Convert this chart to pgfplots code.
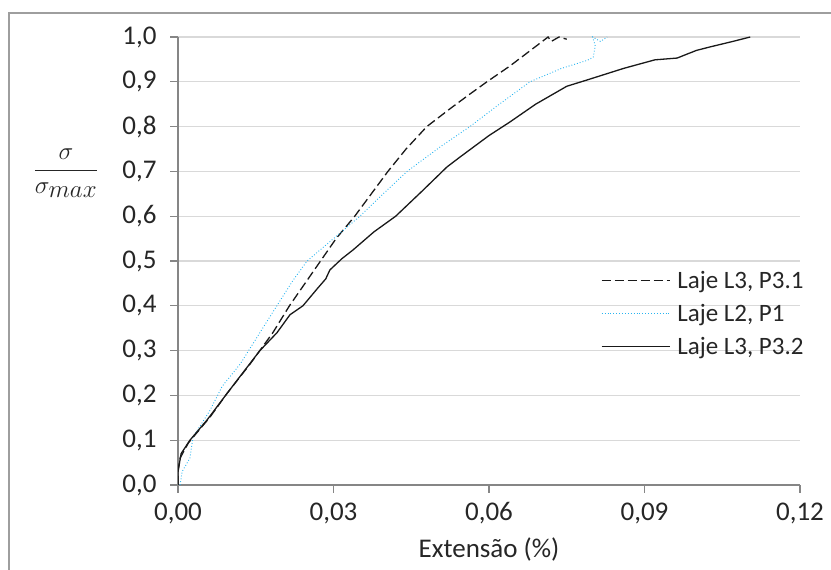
\documentclass[border=0pt]{standalone}
\usepackage{fontspec}
\setmainfont{Carlito}
\usepackage{pgfplots}
\pgfplotsset{compat=1.18}
\definecolor{axgray}{RGB}{134,134,134}
\definecolor{gridgray}{RGB}{217,217,217}
\definecolor{lblue}{RGB}{40,180,240}
\begin{document}
\begin{tikzpicture}
\useasboundingbox (0pt,0pt) rectangle (831pt,570pt);
\draw[axgray!80, line width=1.6pt] (9pt,0pt) -- (9pt,557pt) -- (831pt,557pt);
\node[font=\fontsize{35}{40}\selectfont, text=black!85] at (66pt,397pt) {$\displaystyle\frac{\sigma\vphantom{\sigma_{max}}}{\sigma_{max}}$};
\begin{axis}[
  at={(178pt,85pt)}, anchor=south west,
  scale only axis, width=622pt, height=448pt,
  xmin=0, xmax=0.12, ymin=0, ymax=1,
  xtick={0,0.03,0.06,0.09,0.12},
  ytick={0,0.1,...,1.0},
  axis x line*=bottom, axis y line*=left,
  axis line style={axgray, line width=1.2pt, -},
  tick style={axgray, line width=1.2pt},
  tick align=outside, major tick length=8pt,
  ymajorgrids, grid style={gridgray, line width=1.3pt},
  x tick label style={/pgf/number format/fixed, /pgf/number format/fixed zerofill, /pgf/number format/precision=2, /pgf/number format/use comma},
  y tick label style={/pgf/number format/fixed, /pgf/number format/fixed zerofill, /pgf/number format/precision=1, /pgf/number format/use comma},
  /pgf/number format/assume math mode=true,
  ticklabel style={font=\fontsize{27}{32}\selectfont, text=black!85},
  xticklabel style={yshift=-6pt},
  yticklabel style={xshift=-10pt},
  scaled x ticks=false,
  xlabel={Extensão (\%)},
  xlabel style={font=\fontsize{27}{32}\selectfont, text=black!85, at={(axis description cs:0.5,0)}, anchor=base, yshift=-73pt},
  legend style={at={(0.675,0.486)}, anchor=north west, draw=none, fill=none,
    font=\fontsize{25}{30}\selectfont, text=black!85, row sep=10pt, cells={anchor=west}},
  legend cell align=left,
  legend image code/.code={\draw[#1] (0pt,0pt) -- (68pt,0pt); \path (73pt,0pt);},
]
\addplot[black!90, line width=1.3pt, dash pattern=on 9pt off 4pt] coordinates {
(0,0) (0,0.03) (0.0004,0.06) (0.002,0.094) (0.0062,0.152) (0.0095,0.205)
(0.0139,0.27) (0.0183,0.34) (0.0215,0.40) (0.0245,0.45) (0.0275,0.50)
(0.0305,0.55) (0.0341,0.60) (0.0373,0.65) (0.0405,0.70) (0.0440,0.75)
(0.0480,0.80) (0.0525,0.84) (0.0560,0.87) (0.0596,0.90) (0.0640,0.935)
(0.0680,0.97) (0.0714,1.0) (0.0720,0.99) (0.0735,1.0) (0.0750,0.995)
};
\addlegendentry{Laje L3, P3.1}
\addplot[lblue, line width=0.9pt, dotted] coordinates {
(0.0004,0) (0.0008,0.03) (0.0023,0.06) (0.0029,0.107) (0.0062,0.167)
(0.0085,0.22) (0.0120,0.27) (0.0177,0.375) (0.0222,0.457) (0.0249,0.50)
(0.0300,0.55) (0.0351,0.60) (0.0396,0.65) (0.0442,0.70) (0.0505,0.754)
(0.0563,0.80) (0.0620,0.85) (0.0679,0.90) (0.0740,0.93) (0.0790,0.948)
(0.0801,0.955) (0.0805,0.98) (0.0800,1.0) (0.0815,0.99) (0.0828,1.0)
};
\addlegendentry{Laje L2, P1}
\addplot[black!90, line width=1.3pt] coordinates {
(0,0) (0,0.03) (0.0006,0.07) (0.0023,0.10) (0.0056,0.145) (0.0095,0.205)
(0.0158,0.30) (0.0191,0.34) (0.0216,0.38) (0.0241,0.40) (0.0270,0.44)
(0.0285,0.46) (0.0293,0.48) (0.0316,0.505) (0.0338,0.525) (0.0378,0.565)
(0.0420,0.60) (0.0470,0.655) (0.0519,0.71) (0.0544,0.732) (0.0600,0.78)
(0.0640,0.81) (0.0690,0.85) (0.0750,0.89) (0.0789,0.904) (0.0860,0.93)
(0.0920,0.949) (0.0963,0.953) (0.1000,0.97) (0.1027,0.978) (0.1070,0.99)
(0.1104,1.0)
};
\addlegendentry{Laje L3, P3.2}
\end{axis}
\end{tikzpicture}
\end{document}
